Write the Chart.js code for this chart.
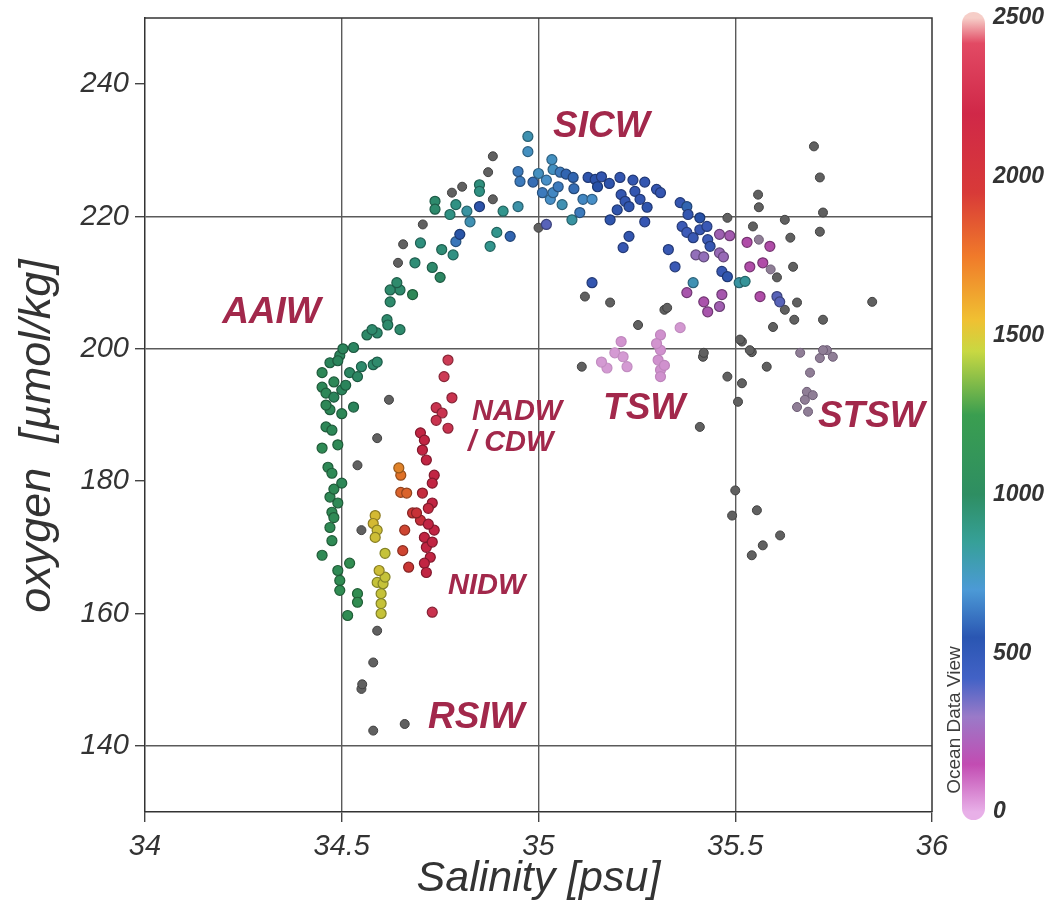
<!DOCTYPE html>
<html>
<head>
<meta charset="utf-8">
<title>Oxygen vs salinity</title>
<script src="https://cdn.jsdelivr.net/npm/chart.js@4.4.1/dist/chart.umd.min.js"></script>
<style>
  html, body { margin: 0; padding: 0; background: #fff; }
  #tsChart { display: block; }
</style>
</head>
<body>
<canvas id="tsChart" width="1053" height="902"></canvas>
<script>
const FONT = "'Liberation Sans', Arial, Helvetica, sans-serif";
const INK = '#333333';
const MASS_COLOR = '#a2284b';

// axis ticks
const salTicks = [34, 34.5, 35, 35.5, 36];
const o2Ticks = [140, 160, 180, 200, 220, 240];
const depthTicks = [0, 500, 1000, 1500, 2000, 2500];
const salGrid = [34.5, 35, 35.5];
const o2Grid = [140, 200, 220];

// depth colour scale [m]
const depthStops  = [0, 150, 300, 420, 550, 700, 850, 1000, 1250, 1450, 1550, 1750, 1950, 2200, 2420, 2500];
const depthColors = ['#e8b0e8', '#c24cb2', '#9a7ac8', '#4262c6', '#2a56b2', '#4c9ad6', '#36a098', '#2e8e62',
                     '#3a9e50', '#c8d842', '#f0c032', '#f07a2a', '#d83a38', '#d02848', '#e24a64', '#f6cec8'];

// water mass labels (salinity, oxygen of the label anchor)
const massNames = ['SICW', 'AAIW', 'NADW', '/ CDW', 'TSW', 'STSW', 'NIDW', 'RSIW'];
const massSal   = [35.037, 34.196, 34.831, 34.821, 35.164, 35.71, 34.77, 34.719];
const massO2    = [233.6, 205.5, 190.5, 185.8, 191.0, 189.7, 164.1, 144.2];
const smallMasses = ['NADW', '/ CDW', 'NIDW'];

// samples: [salinity psu, oxygen umol/kg, depth m]
const aaiwPts = [
  [34.495,199,1000],[34.47,197.9,1000],[34.45,196.4,1050],[34.45,194.2,1050],[34.46,193.3,1050],
  [34.48,192.7,1000],[34.50,193.8,1000],[34.52,196.4,980],[34.55,197.3,950],[34.54,195.8,980],
  [34.53,191.2,1000],[34.58,197.6,950],[34.59,198.0,950],[34.47,190.8,1050],[34.46,188.2,1050],
  [34.475,187.7,1050],[34.45,185,1100],[34.465,182.1,1080],[34.475,181.2,1080],[34.50,179.7,1050],
  [34.47,177.6,1080],[34.49,176.7,1080],[34.475,175.3,1100],[34.48,174.5,1100],[34.47,173,1100],
  [34.475,171,1100],[34.45,168.8,1100],[34.49,166.5,1100],[34.495,165,1120],[34.495,163.5,1120],
  [34.52,167.6,1150],[34.54,163,1150],[34.54,161.7,1150],[34.515,159.7,1120],[34.49,198.2,1000],
  [34.48,195,1050],[34.51,194.5,1000],[34.46,191.5,1050],[34.50,190.2,1050],[34.49,185.5,1080],
  [34.48,178.8,1080]
];
const arcPts = [
  [34.503,200,1000],[34.53,200.2,980],[34.564,202.1,960],[34.59,202.4,950],[34.577,202.9,950],
  [34.648,202.9,950],[34.615,204.4,950],[34.617,203.6,950],[34.623,207.1,950],[34.68,208.2,1060],
  [34.648,208.9,950],[34.623,208.9,950],[34.64,210,950],[34.75,210.8,980],[34.73,212.3,950],
  [34.783,214.2,880],[34.754,215,920],[34.686,213,920],[34.70,216,900],[34.79,216.2,640],
  [34.80,217.3,560],[34.894,217.6,850],[34.928,217,600],[34.877,215.5,850],[34.826,219.2,750],
  [34.818,220.8,800],[34.85,221.5,520],[34.775,220.3,880],[34.737,222.3,950],[34.737,221.1,950],
  [34.79,221.8,880],[34.85,224.8,900],[34.85,223.8,880],[34.91,220.8,850],[34.948,221.5,780],
  [34.948,226.8,650],[34.953,225.3,650],[34.986,225.2,620],[35.01,223.6,650],[35.03,222.6,700],
  [34.973,232.1,760],[34.973,229.8,720],[35.02,218.8,380]
];
const sicwPts = [
  [35.034,228.6,720],[35.037,227.1,720],[35.055,226.7,650],[35.07,226.4,600],[35.088,225.9,600],
  [35.037,223.6,680],[35.06,221.8,750],[35.085,219.5,800],[35.105,220.6,650],[35.126,225.9,500],
  [35.144,225.6,520],[35.15,224.5,550],[35.113,222.6,680],[35.136,222.6,700],[35.207,225.9,480],
  [35.182,219.5,500],[35.21,223.3,480],[35.22,222.3,480],[35.23,221.5,500],[35.245,223.8,480],
  [35.258,222.6,480],[35.27,225.2,480],[35.276,221.4,500],[35.30,224.1,470],[35.31,223.6,470],
  [35.27,219.2,460],[35.23,217,480],[35.215,215.3,460],[35.36,222.1,470],[35.377,221.5,600],
  [35.38,220.3,480],[35.41,219.8,550],[35.365,218.5,430],[35.377,217.6,420],[35.393,216.8,450],
  [35.41,218,450],[35.428,218.5,440],[35.43,216.5,430],[35.436,215.5,470],[35.33,215,450],
  [35.347,212.4,440],[35.393,210,750],[35.466,211.7,450],[35.48,210.9,500],[35.136,210,480],
  [35.51,210,800],[35.525,210.2,820],[35.0,226.5,720],[35.02,225.5,700],[35.05,224.5,650],
  [35.09,224.2,620],[35.16,226.0,480],[35.18,225.0,500],[35.24,225.5,480],[35.20,221.0,500]
];
const thermoPts = [
  [35.46,214.5,270],[35.47,213.9,270],[35.40,214.2,290],[35.42,213.9,290],[35.46,217.3,240],
  [35.486,217.1,220],[35.377,208.5,200],[35.42,207.1,190],[35.43,205.6,200],[35.46,206.4,230],
  [35.466,208.2,210],[35.606,207.9,380],[35.613,207.1,380],[35.537,212.4,170],[35.57,213,170],
  [35.588,215.5,170],[35.563,207.9,170],[35.53,216.1,170]
];
const tswPts = [
  [35.21,201.1,25],[35.194,199.4,15],[35.215,198.8,15],[35.174,197.1,15],[35.225,197.3,15],
  [35.31,202.1,30],[35.31,199.8,30],[35.304,198.3,30],[35.31,196.8,30],[35.31,195.8,30],
  [35.30,200.8,25],[35.32,197.5,30],[35.36,203.2,20],[35.16,198,15]
];
const midPts = [
  [34.585,174.8,1520],[34.58,173.6,1520],[34.59,172.6,1500],[34.585,171.5,1500],[34.61,169.1,1480],
  [34.59,164.7,1480],[34.605,164.5,1480],[34.60,163,1480],[34.60,161.5,1480],[34.60,160,1480],
  [34.61,165.5,1480],[34.595,166.5,1500],
  [34.65,180.9,1750],[34.65,178.3,1800],[34.665,178.2,1800],[34.66,172.6,1900],[34.655,169.5,1900],
  [34.67,167,1950],[34.68,175.2,1950],[34.645,182,1700]
];
const deepPts = [
  [34.77,198.3,2350],[34.76,195.8,2350],[34.78,192.6,2300],[34.74,191.1,2300],[34.755,190.3,2300],
  [34.77,188,2300],[34.74,189.2,2300],[34.70,187.3,2200],[34.71,186.2,2200],[34.705,184.7,2200],
  [34.715,183.2,2200],[34.735,180.9,2200],[34.73,179.7,2200],[34.705,178.2,2100],[34.73,176.7,2200],
  [34.72,175.9,2150],[34.70,174.1,2050],[34.69,175.2,2000],[34.735,172.6,2200],[34.71,171.5,2200],
  [34.715,170,2200],[34.725,168.5,2200],[34.71,167.6,2200],[34.715,166.2,2200],[34.73,160.2,2300],
  [34.72,173.5,2200],[34.73,170.8,2200]
];
// samples outside the colour selection: [salinity, oxygen]
const otherPts = [
  [34.884,229.1],[34.872,226.7],[34.806,224.5],[34.78,223.6],[34.884,222.6],[34.706,218.8],
  [34.656,215.8],[34.643,213],[35.0,218.3],[34.62,192.3],[34.59,186.5],[34.54,182.4],[34.55,172.6],
  [34.59,157.4],[34.58,152.6],[34.55,148.6],[34.552,149.3],[34.58,142.3],[34.66,143.3],
  [35.118,207.9],[35.182,207],[35.32,205.9],[35.253,203.6],[35.327,206.2],[35.11,197.3],
  [35.418,198.8],[35.48,195.8],[35.517,194.8],[35.507,192],[35.517,201.1],[35.542,199.5],
  [35.58,197.3],[35.596,203.3],[35.42,199.4],[35.512,201.4],[35.537,199.8],[35.558,223.3],
  [35.56,221.4],[35.545,218.5],[35.626,219.5],[35.64,216.8],[35.647,212.4],[35.606,210.8],
  [35.626,205.9],[35.657,207],[35.65,204.4],[35.70,230.6],[35.715,225.9],[35.723,220.6],
  [35.715,217.7],[35.723,204.4],[35.48,219.8],[35.41,188.2],[35.5,178.6],[35.492,174.8],
  [35.555,175.6],[35.614,171.8],[35.57,170.3],[35.542,168.8],[35.848,207.1]
];
const fadedPts = [
  [35.665,199.4],[35.715,198.6],[35.733,199.8],[35.748,198.8],[35.69,196.4],[35.682,193.5],
  [35.677,192.3],[35.657,191.2],[35.685,190.5],[35.697,193],[35.723,199.8],[35.56,216.5],[35.59,212]
];

function hexToRgb(h) {
  const n = parseInt(h.slice(1), 16);
  return [(n >> 16) & 255, (n >> 8) & 255, n & 255];
}
const stopRgb = depthColors.map(hexToRgb);

function depthRgb(d) {
  if (d <= depthStops[0]) return stopRgb[0];
  for (let i = 1; i < depthStops.length; i++) {
    if (d <= depthStops[i]) {
      const t = (d - depthStops[i - 1]) / (depthStops[i] - depthStops[i - 1]);
      return stopRgb[i - 1].map((c, k) => Math.round(c + (stopRgb[i][k] - c) * t));
    }
  }
  return stopRgb[stopRgb.length - 1];
}
const rgb = (c, f) => 'rgb(' + c.map(v => Math.round(v * f)).join(',') + ')';

const toPts = arr => arr.map(([x, y, d]) => ({ x, y, d }));

function depthSet(label, arr) {
  return {
    label,
    data: toPts(arr),
    pointRadius: 5,
    pointBorderWidth: 1.2,
    pointBackgroundColor: c => c.raw ? rgb(depthRgb(c.raw.d), 0.93) : '#000',
    pointBorderColor: c => c.raw ? rgb(depthRgb(c.raw.d), c.raw.d < 100 ? 0.85 : 0.62) : '#000'
  };
}

// vertical scales: keep the plot edge where the layout padding puts it
const noEdgePadding = s => { s.paddingTop = 0; s.paddingBottom = 0; };

// frame, colour bar and annotations
const decor = {
  id: 'decor',
  beforeDatasetsDraw(chart) {
    const { ctx, chartArea: a } = chart;
    ctx.save();
    ctx.strokeStyle = INK;
    ctx.lineWidth = 1.5;
    ctx.beginPath();
    ctx.moveTo(a.left, a.top);
    ctx.lineTo(a.right, a.top);
    ctx.lineTo(a.right, a.bottom);
    ctx.stroke();
    ctx.restore();
  },
  afterDraw(chart) {
    const { ctx, chartArea: a, scales } = chart;
    const ds = scales.depth;
    const y0 = ds.getPixelForValue(0);
    const y1 = ds.getPixelForValue(2500);
    ctx.save();

    // depth colour bar
    const barX = a.right + 30, barW = 23;
    const grad = ctx.createLinearGradient(0, y0, 0, y1);
    depthStops.forEach((s, i) => grad.addColorStop(s / 2500, depthColors[i]));
    ctx.fillStyle = grad;
    ctx.beginPath();
    ctx.roundRect(barX, y1 - 6, barW, y0 - y1 + 14, barW / 2);
    ctx.fill();

    ctx.translate(a.right + 23, (y0 + y1) / 2 + 305);
    ctx.rotate(-Math.PI / 2);
    ctx.fillStyle = '#3d3d3d';
    ctx.font = '19px ' + FONT;
    ctx.textAlign = 'center';
    ctx.textBaseline = 'middle';
    ctx.fillText('Ocean Data View', 0, 0);
    ctx.setTransform(1, 0, 0, 1, 0, 0);

    // axis titles
    ctx.fillStyle = INK;
    ctx.font = 'italic 43px ' + FONT;
    ctx.textAlign = 'center';
    ctx.textBaseline = 'middle';
    ctx.fillText('Salinity [psu]', (a.left + a.right) / 2, 879);
    ctx.translate(37, 436);
    ctx.rotate(-Math.PI / 2);
    ctx.font = 'italic 45px ' + FONT;
    ctx.fillText('oxygen  [\u00b5mol/kg]', 0, 0);
    ctx.setTransform(1, 0, 0, 1, 0, 0);

    // water mass names
    ctx.fillStyle = MASS_COLOR;
    ctx.textAlign = 'left';
    massNames.forEach((name, i) => {
      const size = smallMasses.includes(name) ? 29 : 37;
      ctx.font = 'italic bold ' + size + 'px ' + FONT;
      ctx.fillText(name, scales.x.getPixelForValue(massSal[i]), scales.y.getPixelForValue(massO2[i]));
    });
    ctx.restore();
  }
};

const tickFont = { family: FONT, size: 29, style: 'italic' };

new Chart(document.getElementById('tsChart'), {
  type: 'scatter',
  data: {
    datasets: [
      depthSet('NADW/CDW', deepPts),
      depthSet('NIDW', midPts),
      depthSet('TSW', tswPts),
      depthSet('thermocline', thermoPts),
      depthSet('SICW', sicwPts),
      depthSet('AAIW arc', arcPts),
      depthSet('AAIW', aaiwPts),
      { label: 'faded', data: toPts(fadedPts), pointRadius: 4.5, pointBorderWidth: 1,
        pointBackgroundColor: '#8f7e96', pointBorderColor: '#6c5c74' },
      { label: 'other', data: toPts(otherPts), pointRadius: 4.5, pointBorderWidth: 1,
        pointBackgroundColor: '#606060', pointBorderColor: '#404040' }
    ]
  },
  options: {
    responsive: false,
    animation: false,
    layout: { padding: { top: 18, right: 0, bottom: 0, left: 0 } },
    plugins: { legend: { display: false }, tooltip: { enabled: false } },
    scales: {
      x: {
        type: 'linear', min: 34, max: 36,
        afterBuildTicks: s => { s.ticks = salTicks.map(v => ({ value: v })); },
        afterFit: s => { s.height = 90; },
        ticks: { font: tickFont, color: INK, padding: 8, maxRotation: 0, callback: v => String(v) },
        grid: {
          color: c => salGrid.includes(c.tick && c.tick.value) ? '#5a5a5a' : 'rgba(0,0,0,0)',
          lineWidth: 1.4, tickLength: 10, tickColor: '#444', tickWidth: 1.4
        },
        border: { display: true, color: INK, width: 1.5 }
      },
      y: {
        type: 'linear', min: 130, max: 250,
        afterBuildTicks: s => { s.ticks = o2Ticks.map(v => ({ value: v })); },
        afterFit: s => { s.width = 145; noEdgePadding(s); },
        ticks: { font: tickFont, color: INK, padding: 6, callback: v => String(v) },
        grid: {
          color: c => o2Grid.includes(c.tick && c.tick.value) ? '#5a5a5a' : 'rgba(0,0,0,0)',
          lineWidth: 1.4, tickLength: 10, tickColor: '#444', tickWidth: 1.4
        },
        border: { display: true, color: INK, width: 1.5 }
      },
      depth: {
        type: 'linear', position: 'right', min: 0, max: 2500,
        afterBuildTicks: s => { s.ticks = depthTicks.map(v => ({ value: v })); },
        afterFit: s => { s.width = 121; noEdgePadding(s); },
        ticks: { font: { family: FONT, size: 23, style: 'italic', weight: 'bold' }, color: INK,
                 padding: 61, callback: v => String(v) },
        grid: { display: false, drawTicks: false, drawOnChartArea: false },
        border: { display: false }
      }
    }
  },
  plugins: [decor]
});
</script>
</body>
</html>
